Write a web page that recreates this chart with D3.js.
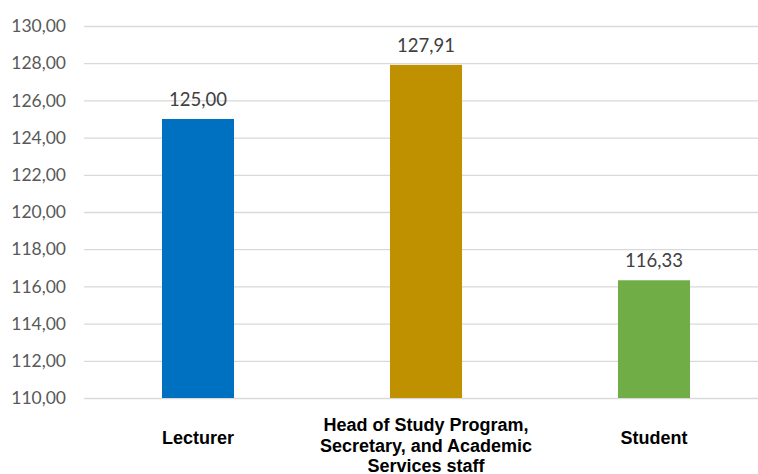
<!DOCTYPE html>
<html>
<head>
<meta charset="utf-8">
<script src="https://cdn.jsdelivr.net/npm/d3@7"></script>
<style>
  html, body { margin: 0; padding: 0; background: #fff; }
  #chart { width: 758px; height: 474px; overflow: hidden; }
</style>
</head>
<body>
<div id="chart"></div>
<script>
// bar chart: mean scores per respondent group
const categories = [
  ["Lecturer"],
  ["Head of Study Program,", "Secretary, and Academic", "Services staff"],
  ["Student"]
];
const values = [125.00, 127.91, 116.33];
const colors = ["#0070C0", "#BF9000", "#70AD47"];
const yTicks = [110, 112, 114, 116, 118, 120, 122, 124, 126, 128, 130];

const width = 758, height = 474;
const margin = { top: 26, right: -10, bottom: 76, left: 84 };
const fmt = v => v.toFixed(2).replace(".", ",");

const svg = d3.select("#chart").append("svg")
  .attr("width", width)
  .attr("height", height);

const x = d3.scaleBand()
  .domain(d3.range(values.length))
  .range([margin.left, width - margin.right])
  .paddingInner(0.684)
  .paddingOuter(0.342);

const y = d3.scaleLinear()
  .domain([110, 130])
  .range([height - margin.bottom, margin.top]);

// gridlines + y labels
const yAxis = svg.append("g")
  .attr("transform", `translate(${margin.left},0)`)
  .call(d3.axisLeft(y).tickValues(yTicks).tickFormat(fmt).tickSize(0).tickPadding(18))
  .call(g => g.select(".domain").remove())
  .call(g => g.selectAll(".tick line").clone()
    .attr("x2", width - margin.left)
    .attr("stroke", "#d9d9d9")
    .attr("stroke-width", 1.3));

yAxis.selectAll("text")
  .attr("fill", "#595959")
  .attr("font-family", "Lato, sans-serif")
  .attr("font-size", "17.5px");

// bars
svg.append("g").selectAll("rect")
  .data(values)
  .join("rect")
  .attr("x", (d, i) => x(i))
  .attr("y", d => y(d))
  .attr("width", x.bandwidth())
  .attr("height", d => y(110) - y(d))
  .attr("fill", (d, i) => colors[i]);

// value labels
svg.append("g").selectAll("text")
  .data(values)
  .join("text")
  .attr("x", (d, i) => x(i) + x.bandwidth() / 2)
  .attr("y", d => y(d) - 13)
  .attr("text-anchor", "middle")
  .attr("fill", "#404040")
  .attr("font-family", "Lato, sans-serif")
  .attr("font-size", "18.5px")
  .text(fmt);

// category labels
const cat = svg.append("g").selectAll("text")
  .data(categories)
  .join("text")
  .attr("x", (d, i) => x(i) + x.bandwidth() / 2)
  .attr("y", d => d.length > 1 ? 431 : 444)
  .attr("text-anchor", "middle")
  .attr("fill", "#000")
  .attr("font-family", "'Liberation Sans', Arial, sans-serif")
  .attr("font-weight", "bold")
  .attr("font-size", "18px");

cat.selectAll("tspan")
  .data(d => d)
  .join("tspan")
  .attr("x", function() { return this.parentNode.getAttribute("x"); })
  .attr("dy", (d, i) => i === 0 ? 0 : 20.5)
  .text(d => d);
</script>
</body>
</html>
